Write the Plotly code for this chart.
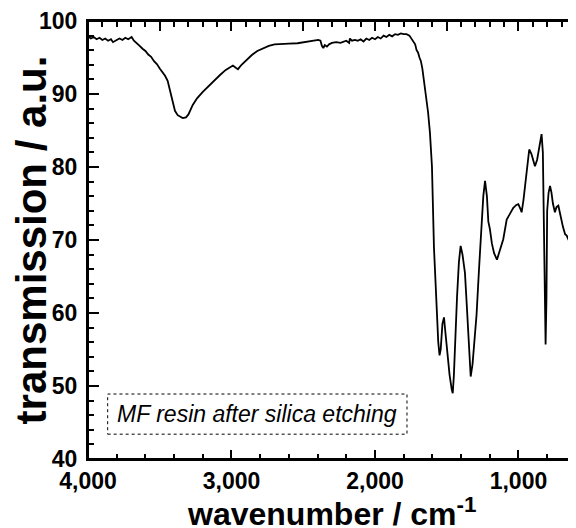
import plotly.graph_objects as go

# FTIR spectrum
wavenumber = [4000, 3980, 3960, 3940, 3920, 3900, 3880, 3860, 3840, 3826, 3800, 3780, 3760,
              3740, 3720, 3696, 3680, 3660, 3640, 3620, 3600, 3580, 3560, 3540, 3520, 3500,
              3480, 3463, 3445, 3429, 3410, 3394, 3375, 3359, 3340, 3317, 3300, 3270, 3240,
              3200, 3160, 3128, 3080, 3040, 3010, 2990, 2970, 2955, 2930, 2900, 2860, 2820,
              2780, 2740, 2700, 2650, 2600, 2540, 2480, 2420, 2395, 2380, 2370, 2360, 2350,
              2335, 2320, 2300, 2270, 2240, 2220, 2200, 2180, 2175, 2160, 2140, 2120, 2100,
              2080, 2060, 2040, 2020, 2000, 1980, 1960, 1940, 1920, 1900, 1880, 1860, 1840,
              1820, 1800, 1780, 1760, 1745, 1735, 1720, 1710, 1700, 1690, 1680, 1670, 1660,
              1650, 1640, 1630, 1617, 1603, 1589, 1575, 1565, 1559, 1550, 1542, 1530, 1519,
              1510, 1495, 1480, 1465, 1458, 1450, 1440, 1428, 1415, 1403, 1390, 1373, 1360,
              1345, 1333, 1320, 1305, 1292, 1275, 1261, 1245, 1233, 1220, 1210, 1199, 1185,
              1170, 1150, 1130, 1106, 1082, 1060, 1036, 1015, 1001, 985, 978, 965, 955, 940,
              925, 910, 895, 885, 870, 855, 839, 830, 825, 818, 811, 805, 800, 790, 780, 770,
              760, 746, 735, 722, 705, 690, 675, 664, 650, 635, 625, 613, 605]
transmission = [97.9, 97.6, 97.8, 97.5, 97.7, 97.4, 97.6, 97.3, 97.5, 97.1, 97.4, 97.6, 97.4,
                97.7, 97.5, 97.8, 97.3, 97.0, 96.6, 96.2, 95.9, 95.4, 95.1, 94.5, 94.1, 93.5,
                93.0, 92.5, 91.8, 90.6, 89.0, 87.7, 87.1, 86.9, 86.7, 86.8, 87.2, 88.5, 89.4,
                90.3, 91.1, 91.6, 92.6, 93.3, 93.7, 93.9, 93.6, 93.4, 94.0, 94.6, 95.3, 95.9,
                96.3, 96.6, 96.8, 96.9, 96.9, 96.95, 97.1, 97.3, 97.4, 97.3, 96.6, 96.3, 96.7,
                96.5, 96.8, 97.0, 97.1, 97.0, 97.2, 97.3, 97.0, 97.6, 97.3, 97.4, 97.3, 97.5,
                97.2, 97.6, 97.4, 97.7, 97.5, 97.8, 97.6, 98.0, 97.8, 98.1, 97.9, 98.2, 98.1,
                98.3, 98.2, 98.2, 98.0, 97.6, 97.2, 96.8, 96.0, 95.7, 95.0, 94.5, 93.5, 92.0,
                91.0, 89.5, 87.5, 84.7, 80.1, 69.0, 62.0, 57.5, 56.0, 54.2, 55.0, 58.5, 59.4,
                57.5, 54.0, 51.5, 49.5, 49.0, 51.5, 57.0, 62.3, 67.0, 69.2, 68.0, 65.5, 61.0,
                55.0, 51.3, 53.0, 56.5, 59.8, 66.0, 71.5, 76.0, 78.1, 76.0, 72.5, 71.5, 69.5,
                68.2, 67.3, 68.5, 70.1, 72.8, 73.5, 74.4, 74.8, 74.9, 74.2, 73.8, 75.5, 77.4, 80.0,
                82.4, 81.8, 80.5, 80.1, 81.0, 83.0, 84.5, 82.0, 76.0, 68.0, 55.7, 62.0, 74.0, 76.5,
                77.4, 76.5, 75.0, 73.8, 74.5, 74.7, 73.0, 71.8, 70.8, 70.6, 70.0, 70.0, 71.5,
                73.1, 72.5]

label_text = "MF resin after silica etching"
x_title = "wavenumber / cm<sup>-1</sup>"
y_title = "transmission / a.u."
x_range = [4000, 613]
y_range = [40, 100]

fig = go.Figure()

fig.add_trace(
    go.Scatter(x=wavenumber,
               y=transmission,
               mode="lines",
               line=dict(color="black", width=1.8),
               showlegend=False))

# same spectrum on the top/right axes (no visible line) so those ticks get drawn
fig.add_trace(
    go.Scatter(x=wavenumber,
               y=transmission,
               xaxis="x2", yaxis="y2",
               mode="lines",
               line=dict(color="rgba(0,0,0,0)", width=0),
               hoverinfo="skip",
               showlegend=False))

axis_style = dict(showline=True, linecolor="black", linewidth=2,
                  ticks="inside", tickwidth=1.5, tickcolor="black",
                  showgrid=False, zeroline=False, automargin=False,
                  tickfont=dict(family="Liberation Sans, Arial", size=23, color="black", weight="bold"))

fig.update_layout(
    xaxis=dict(range=x_range, tickmode="linear", tick0=0, dtick=1000, tickformat=",d", ticklen=9,
               mirror=True,
               minor=dict(ticks="inside", ticklen=5, dtick=200, tickcolor="black", tickwidth=1.5),
               **axis_style),
    yaxis=dict(range=y_range, tickmode="linear", tick0=0, dtick=10, ticklen=11,
               mirror=True,
               minor=dict(ticks="inside", ticklen=6, dtick=2, tickcolor="black", tickwidth=1.5),
               ticklabelstandoff=4,
               title=dict(text=y_title, standoff=0,
                          font=dict(family="Liberation Sans, Arial", size=42, color="black", weight="bold")),
               **axis_style),
    # top and right frame carry their own tick spacing in the reference
    xaxis2=dict(overlaying="x", anchor="y2", side="top", range=x_range, tickmode="linear", tick0=0,
                dtick=500, ticklen=10, showticklabels=False,
                minor=dict(ticks="inside", ticklen=6, dtick=100, tickcolor="black", tickwidth=1.5),
                **axis_style),
    yaxis2=dict(overlaying="y", anchor="x2", side="right", range=y_range, tickmode="linear", tick0=0,
                dtick=2.5, ticklen=6, showticklabels=False, **axis_style))

# frame round the plot area
fig.add_shape(type="rect", xref="paper", yref="paper", x0=0, x1=1, y0=0, y1=1,
              line=dict(color="black", width=2), layer="above")

# x title placed as an annotation so it sits where the reference has it
fig.add_annotation(x=0.5, y=-0.121, xref="paper", yref="paper", text=x_title, showarrow=False,
                   xanchor="center", yanchor="middle",
                   font=dict(family="Liberation Sans, Arial", size=32, color="black", weight="bold"))

fig.add_shape(type="rect", x0=3863, x1=1777, y0=43.4, y1=48.9,
              line=dict(color="black", width=1, dash="dot"), fillcolor="white")
fig.add_annotation(x=2820, y=46.1, text=label_text, showarrow=False,
                   font=dict(family="Liberation Sans, Arial", size=23, color="black", style="italic"))

# the page body adds an 8px margin, so the figure is sized and offset for that
fig.update_layout(width=568, height=520, margin=dict(l=80, r=2, t=13, b=69),
                  plot_bgcolor="white", paper_bgcolor="white")

fig.write_html("out.html")
